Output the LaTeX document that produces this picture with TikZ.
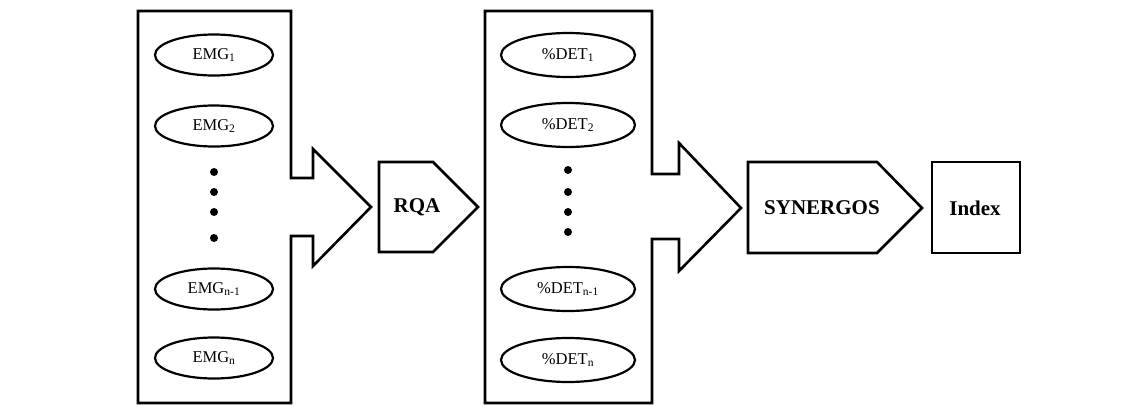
\documentclass[tikz,border=0pt]{standalone}
\usepackage{fontspec}
\setmainfont{Liberation Serif}
\usetikzlibrary{shapes.geometric}
\begin{document}
\begin{tikzpicture}[x=1pt,y=-1pt,
  outl/.style={draw=black,line width=2.6pt,line join=miter},
  sig/.style={ellipse,draw=black,line width=2.2pt,inner sep=0pt,font=\fontsize{16.5}{18}\selectfont},
  emg/.style={sig,minimum width=118pt,minimum height=41pt},
  det/.style={sig,minimum width=134pt,minimum height=44pt},
  dotm/.style={circle,fill=black,inner sep=0pt,minimum size=8pt},
  lbl/.style={font=\fontsize{21}{24}\selectfont\bfseries}]
\useasboundingbox (0,0) rectangle (1144,405);
% first block with arrow
\draw[outl] (138,11) -- (291,11) -- (291,178) -- (313,178) -- (313,149) -- (371,207)
  -- (313,266) -- (313,236) -- (291,236) -- (291,403) -- (138,403) -- cycle;
\node[emg] (e1) at (214,55) {EMG\textsubscript{1}};
\node[emg] (e2) at (214,126) {EMG\textsubscript{2}};
\node[dotm] (ed1) at (214,172) {};
\node[dotm] (ed2) at (214,192) {};
\node[dotm] (ed3) at (214,212) {};
\node[dotm] (ed4) at (214,238) {};
\node[emg] (e3) at (214,289) {EMG\textsubscript{n-1}};
\node[emg] (e4) at (214,358) {EMG\textsubscript{n}};
% RQA
\draw[outl] (379,162) -- (433,162) -- (478,207) -- (433,252) -- (379,252) -- cycle;
\node[lbl] (rqa) at (417,207) {RQA};
% second block with arrow
\draw[outl] (485,11) -- (652,11) -- (652,174) -- (679,174) -- (679,143) -- (741,208)
  -- (679,271) -- (679,239) -- (652,239) -- (652,403) -- (485,403) -- cycle;
\node[det] (d1) at (568,55) {\%DET\textsubscript{1}};
\node[det] (d2) at (568,125) {\%DET\textsubscript{2}};
\node[dotm] (dd1) at (568,170) {};
\node[dotm] (dd2) at (568,192) {};
\node[dotm] (dd3) at (568,212) {};
\node[dotm] (dd4) at (568,232) {};
\node[det] (d3) at (568,289) {\%DET\textsubscript{n-1}};
\node[det] (d4) at (568,360) {\%DET\textsubscript{n}};
% SYNERGOS
\draw[outl] (748,162) -- (877,162) -- (922,208) -- (877,253) -- (748,253) -- cycle;
\node[lbl] (syn) at (822,208) {SYNERGOS};
% Index
\node[outl,minimum width=88pt,minimum height=91pt,inner sep=0pt] (idx) at (976,207.5) {};
\node[lbl] (idxl) at (975,208) {Index};
\end{tikzpicture}
\end{document}
